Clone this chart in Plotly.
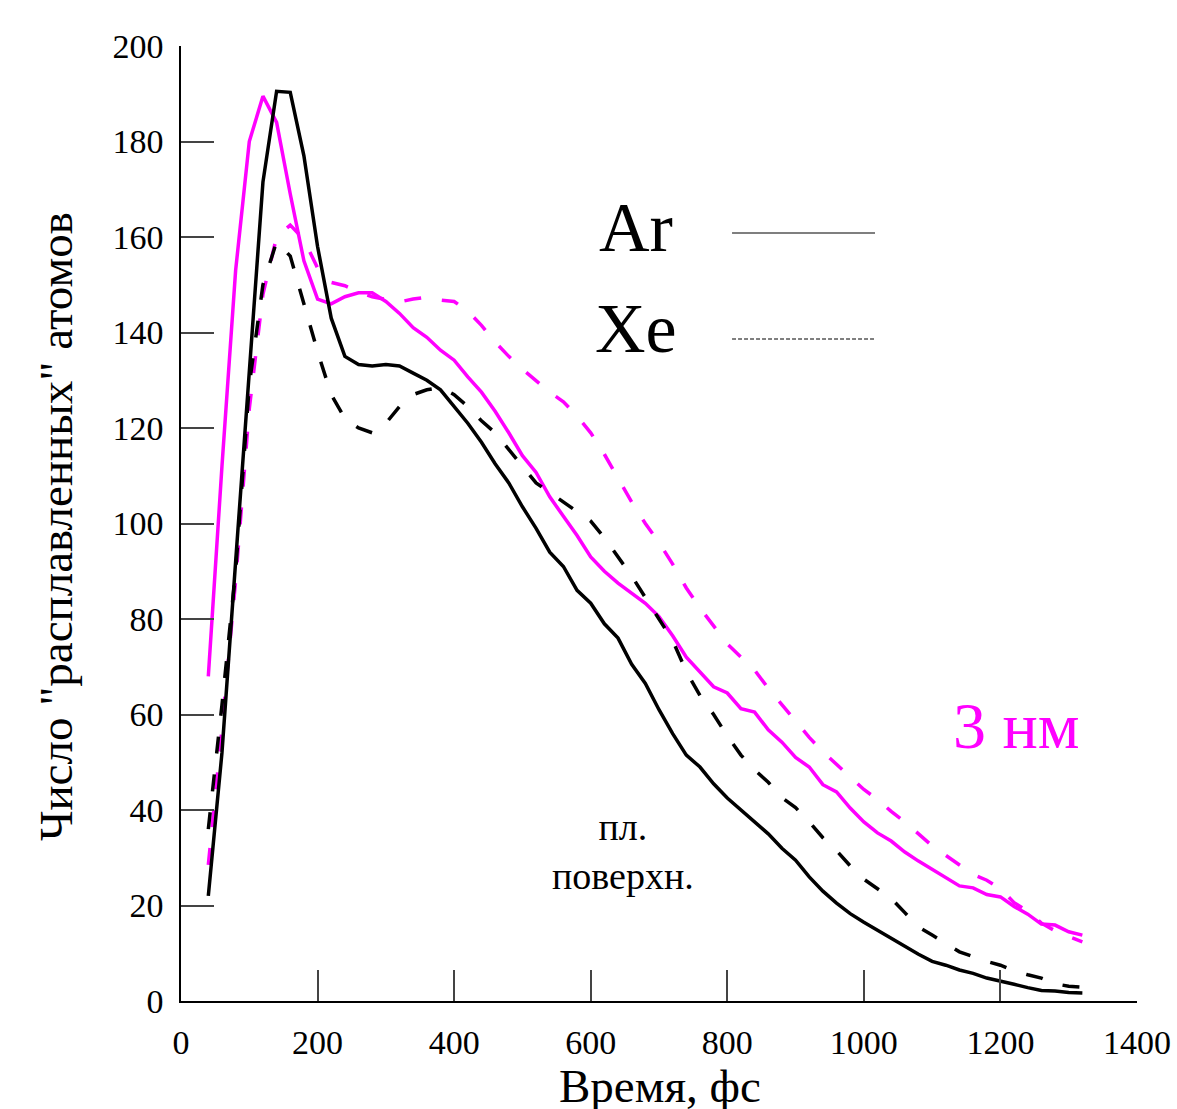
import plotly.graph_objects as go

# time, fs
time_fs = [40, 60, 80, 100, 120, 140, 160, 180, 200, 220, 240, 260, 280, 300, 320, 340, 360, 380, 400,
           420, 440, 460, 480, 500, 520, 540, 560, 580, 600, 620, 640, 660, 680, 700, 720, 740, 760, 780,
           800, 820, 840, 860, 880, 900, 920, 940, 960, 980, 1000, 1020, 1040, 1060, 1080, 1100, 1120,
           1140, 1160, 1180, 1200, 1220, 1240, 1260, 1280, 1300, 1320]

# flat surface ("пл. поверхн.")
ar_flat = [22, 52, 92, 132, 171.5, 190.5, 190.3, 177, 158, 143, 135, 133.3, 133, 133.3, 133, 131.5, 130, 128,
           124.5, 121, 117, 112.5, 108.5, 103.5, 99, 94, 91, 86, 83.3, 79, 76, 70.5, 66.5, 61, 56, 51.5, 49,
           45.5, 42.5, 40, 37.5, 35, 32, 29.5, 26, 23, 20.5, 18.3, 16.5, 14.8, 13, 11.3, 9.8, 8.3, 7.5, 6.5,
           5.8, 4.8, 4.2, 3.5, 2.8, 2.2, 2.1, 1.8, 1.7]
xe_flat = [36, 62, 90, 129, 150, 159, 156, 146, 136, 127, 122, 120, 119, 121, 124.5, 127, 128, 128.5, 127,
           124.5, 121.5, 119, 115.5, 112, 108.5, 106.5, 104.5, 102.5, 100.5, 97, 93, 89, 84.5, 80, 75.5, 69,
           64, 60, 55.5, 51.5, 48.4, 45.8, 42.6, 40.5, 37.5, 34.2, 31.5, 28.3, 25.5, 23.5, 21.5, 18.5, 15.5,
           13.8, 12, 10.3, 9.3, 8.3, 7.5, 6.3, 5.5, 4.8, 3.6, 3.1, 2.9]

# 3 nm
ar_3nm = [68, 112, 153, 180, 189.5, 184, 169, 155, 147, 146, 147.5, 148.3, 148.3, 146.5, 144, 141, 139, 136.3,
          134.2, 130.7, 127.5, 123.5, 119, 114.2, 110.7, 105.6, 101.5, 97.5, 93, 90, 87.5, 85.5, 83.3, 80.5,
          76.5, 72, 69, 65.8, 64.5, 61.2, 60.5, 56.8, 54.2, 51, 49, 45.3, 43.8, 40.4, 37.5, 35.2, 33.5, 31.2,
          29.3, 27.5, 25.8, 24.1, 23.7, 22.3, 21.8, 19.8, 18.2, 16.1, 15.9, 14.5, 13.8]
xe_3nm = [28.5, 57, 88, 124, 148, 160, 162.5, 159.5, 153.5, 150.5, 149.8, 148.5, 147.5, 147, 146.4, 147, 147.4,
          146.8, 146.5, 144.5, 141.5, 138, 135, 132.3, 129.8, 127.5, 125.5, 122.5, 119, 114.5, 109.5, 104.5,
          100, 96, 91.5, 86.5, 82.3, 78.5, 74.8, 72, 69.3, 65.5, 62, 58.7, 55.2, 52.2, 49.5, 47, 44.3, 42.2,
          39.7, 37.5, 35, 32.5, 30.5, 28.5, 26.5, 25.3, 23.5, 20.6, 18.8, 16.3, 14.7, 13.5, 12.4]

x_ticks = [0, 200, 400, 600, 800, 1000, 1200, 1400]
y_ticks = [0, 20, 40, 60, 80, 100, 120, 140, 160, 180, 200]

FONT = "Liberation Serif, Times New Roman, serif"
MAGENTA = "#FF00FF"

fig = go.Figure()
fig.add_trace(go.Scatter(x=time_fs, y=xe_3nm, mode="lines",
                         line=dict(color=MAGENTA, width=3.5, dash="17px,21px")))
fig.add_trace(go.Scatter(x=time_fs, y=ar_3nm, mode="lines",
                         line=dict(color=MAGENTA, width=3.5)))
fig.add_trace(go.Scatter(x=time_fs, y=xe_flat, mode="lines",
                         line=dict(color="black", width=3.5, dash="17px,21px")))
fig.add_trace(go.Scatter(x=time_fs, y=ar_flat, mode="lines",
                         line=dict(color="black", width=3.5)))

axis_common = dict(showline=True, linecolor="black", linewidth=1.5, showgrid=False, zeroline=False,
                   ticks="inside", tickcolor="#444", tickwidth=1.5, automargin=False,
                   tickfont=dict(family=FONT, size=34, color="black"))

fig.update_xaxes(range=[0, 1400], tickvals=x_ticks, ticklen=31, ticklabelstandoff=10, **axis_common)
fig.update_yaxes(range=[0, 200], tickvals=y_ticks, ticklen=33, ticklabelstandoff=9, **axis_common)

# legend-like labels and sample lines
fig.add_shape(type="line", xref="paper", yref="paper", x0=0.5764, x1=0.726, y0=0.8042, y1=0.8042,
              line=dict(color="black", width=1.2))
fig.add_shape(type="line", xref="paper", yref="paper", x0=0.5764, x1=0.726, y0=0.6932, y1=0.6932,
              line=dict(color="black", width=1.2, dash="4px,2px"))

annotations = [
    dict(text="Ar", x=0.476, y=0.810, font=dict(size=70)),
    dict(text="Xe", x=0.476, y=0.704, font=dict(size=70)),
    dict(text="3 нм", x=0.874, y=0.288, font=dict(size=66, color=MAGENTA)),
    dict(text="пл.<br>поверхн.", x=0.462, y=0.157, font=dict(size=38)),
    dict(text="Время, фс", x=0.501, y=-0.089, font=dict(size=47)),
    dict(text="Число \"расплавленных\" атомов", x=-0.130, y=0.497, textangle=-90, font=dict(size=47)),
]
for a in annotations:
    f = dict(family=FONT, color="black")
    f.update(a.pop("font"))
    fig.add_annotation(xref="paper", yref="paper", showarrow=False, xanchor="center", yanchor="middle",
                       font=f, **a)

fig.update_layout(width=1177, height=1109, margin=dict(l=181, r=40, t=46, b=108, autoexpand=False),
                  plot_bgcolor="white", paper_bgcolor="white", showlegend=False)

fig.write_html("out.html", config={"displayModeBar": False},
               post_script="document.body.style.margin='0px';document.body.style.overflow='hidden';")
